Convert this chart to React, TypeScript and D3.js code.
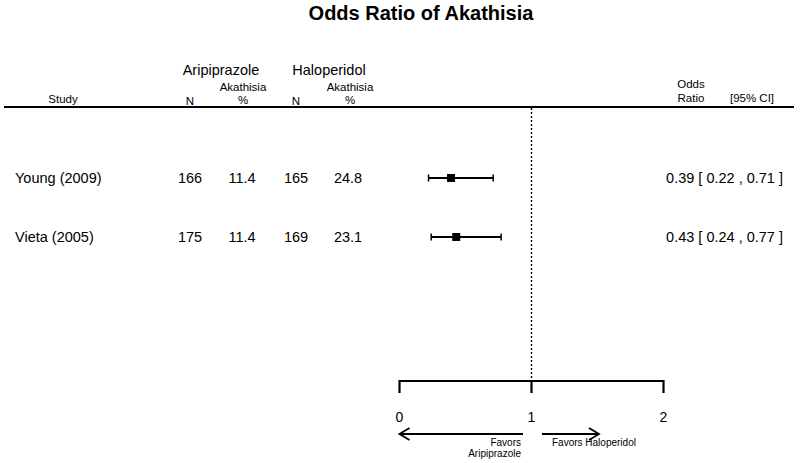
import React from "react";
import * as d3 from "d3";

const studies = ["Young (2009)", "Vieta (2005)"];
const ariN = [166, 175];
const ariPct = [11.4, 11.4];
const halN = [165, 169];
const halPct = [24.8, 23.1];
const oddsRatio = [0.39, 0.43];
const ciLow = [0.22, 0.24];
const ciHigh = [0.71, 0.77];
const axisTicks = [0, 1, 2];

const W = 800;
const H = 463;
const FONT = "'Liberation Sans', Arial, Helvetica, sans-serif";

export default function App() {
  const x = d3.scaleLinear().domain([0, 2]).range([399.5, 663.5]);
  const y = d3.scalePoint<string>().domain(studies).range([178, 237]);
  const axisY = 381;
  const headerLineY = 107;
  const f2 = d3.format(".2f");
  const f1 = d3.format(".1f");

  return (
    <svg
      width={W}
      height={H}
      style={{ position: "absolute", left: 0, top: 0, display: "block", background: "#fff" }}
      fontFamily={FONT}
    >
      <rect x={0} y={0} width={W} height={H} fill="#fff" />
      {/* Title */}
      <text x={421} y={20} textAnchor="middle" fontSize={20} fontWeight="bold" fill="#000">
        Odds Ratio of Akathisia
      </text>

      {/* Header groups */}
      <text x={221} y={75} textAnchor="middle" fontSize={14.5} fill="#000">Aripiprazole</text>
      <text x={329} y={75} textAnchor="middle" fontSize={14.5} fill="#000">Haloperidol</text>

      <text x={63} y={103} textAnchor="middle" fontSize={11.5} fill="#000">Study</text>
      <text x={190} y={105} textAnchor="middle" fontSize={11.5} fill="#000">N</text>
      <text x={243} y={91} textAnchor="middle" fontSize={11.5} fill="#000">Akathisia</text>
      <text x={243} y={103.5} textAnchor="middle" fontSize={11.5} fill="#000">%</text>
      <text x={296} y={105} textAnchor="middle" fontSize={11.5} fill="#000">N</text>
      <text x={350} y={91} textAnchor="middle" fontSize={11.5} fill="#000">Akathisia</text>
      <text x={350} y={103.5} textAnchor="middle" fontSize={11.5} fill="#000">%</text>

      <text x={691} y={88} textAnchor="middle" fontSize={11.5} fill="#000">Odds</text>
      <text x={691} y={102} textAnchor="middle" fontSize={11.5} fill="#000">Ratio</text>
      <text x={752} y={102} textAnchor="middle" fontSize={11.5} fill="#000">[95% CI]</text>

      <line x1={4} x2={794} y1={headerLineY} y2={headerLineY} stroke="#000" strokeWidth={2.2} />

      {/* Reference dotted line at OR = 1 */}
      <line
        x1={x(1)}
        x2={x(1)}
        y1={headerLineY + 1}
        y2={axisY}
        stroke="#000"
        strokeWidth={1.4}
        strokeDasharray="2,2"
      />

      {/* Rows */}
      {studies.map((s, i) => {
        const yy = y(s) as number;
        const base = yy + 5;
        return (
          <g key={s}>
            <text x={15} y={base} fontSize={14.5} fill="#000">{s}</text>
            <text x={190} y={base} textAnchor="middle" fontSize={14.5} fill="#000">{ariN[i]}</text>
            <text x={242} y={base} textAnchor="middle" fontSize={14.5} fill="#000">{f1(ariPct[i])}</text>
            <text x={296} y={base} textAnchor="middle" fontSize={14.5} fill="#000">{halN[i]}</text>
            <text x={348} y={base} textAnchor="middle" fontSize={14.5} fill="#000">{f1(halPct[i])}</text>

            <line x1={x(ciLow[i])} x2={x(ciHigh[i])} y1={yy} y2={yy} stroke="#000" strokeWidth={2} />
            <line x1={x(ciLow[i])} x2={x(ciLow[i])} y1={yy - 3.5} y2={yy + 3.5} stroke="#000" strokeWidth={1.5} />
            <line x1={x(ciHigh[i])} x2={x(ciHigh[i])} y1={yy - 3.5} y2={yy + 3.5} stroke="#000" strokeWidth={1.5} />
            <rect x={x(oddsRatio[i]) - 4} y={yy - 4} width={8} height={8} fill="#000" />

            <text x={783} y={base} textAnchor="end" fontSize={14.5} fill="#000">
              {`${f2(oddsRatio[i])} [ ${f2(ciLow[i])} , ${f2(ciHigh[i])} ]`}
            </text>
          </g>
        );
      })}

      {/* Axis */}
      <line x1={x(0)} x2={x(2)} y1={axisY} y2={axisY} stroke="#000" strokeWidth={2.2} />
      {axisTicks.map((t) => (
        <g key={t}>
          <line x1={x(t)} x2={x(t)} y1={axisY - 1} y2={axisY + 12} stroke="#000" strokeWidth={2.2} />
          <text x={x(t)} y={422} textAnchor="middle" fontSize={14} fill="#000">{t}</text>
        </g>
      ))}

      {/* Favors arrows */}
      <line x1={x(0)} x2={523} y1={434} y2={434} stroke="#000" strokeWidth={1.8} />
      <polyline
        points={`${x(0) + 10},${428} ${x(0)},${434} ${x(0) + 10},${440}`}
        fill="none"
        stroke="#000"
        strokeWidth={1.8}
      />
      <line x1={542} x2={599} y1={434} y2={434} stroke="#000" strokeWidth={1.8} />
      <polyline
        points={`${589},${428} ${599},${434} ${589},${440}`}
        fill="none"
        stroke="#000"
        strokeWidth={1.8}
      />
      <text x={521} y={446} textAnchor="end" fontSize={10} fill="#000">Favors</text>
      <text x={521} y={457} textAnchor="end" fontSize={10} fill="#000">Aripiprazole</text>
      <text x={552} y={446} fontSize={10} fill="#000">Favors Haloperidol</text>
    </svg>
  );
}
